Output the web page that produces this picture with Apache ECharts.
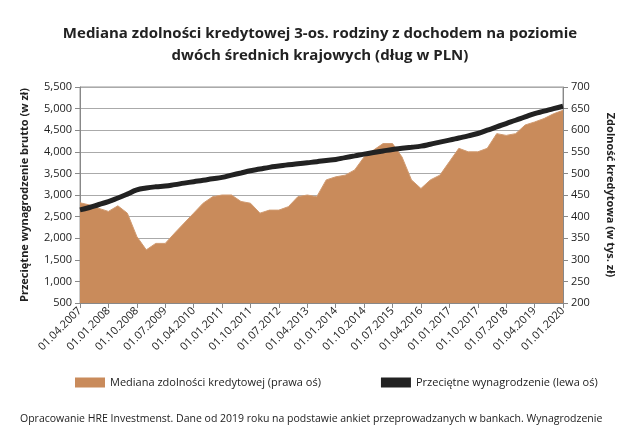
<!DOCTYPE html><html><head><meta charset="utf-8"><script src="https://cdn.jsdelivr.net/npm/echarts@6/dist/echarts.min.js"></script></head><body style="margin:0"><div id="c" style="width:640px;height:443px"></div><script>
const categories=(function(){const a=[];for(let y=2007;y<=2020;y++)for(const m of ['01','04','07','10']){if(y===2007&&m==='01')continue;if(y===2020&&m!=='01')continue;a.push('01.'+m+'.'+y);}return a;})();
const wages=[2655,2710,2780,2847,2930,3020,3116,3160,3190,3208,3240,3275,3308,3340,3375,3408,3460,3510,3562,3600,3640,3670,3700,3725,3747,3770,3800,3824,3865,3905,3947,3985,4020,4054,4080,4105,4131,4175,4225,4270,4320,4370,4424,4500,4575,4654,4730,4810,4885,4940,5000,5054];
const capacity=[432,427,419,412,425,408,354,323,338,338,362,385,408,431,446,450,450,435,431,408,415,415,423,446,450,446,485,492,496,508,538,554,569,569,538,485,465,485,496,527,558,550,550,558,592,588,592,612,619,627,638,646];
const c=echarts.init(document.getElementById('c'));
c.setOption({animation:false,
title:{text:'Mediana zdolności kredytowej 3-os. rodziny z dochodem na poziomie\ndwóch średnich krajowych (dług w PLN)',left:'center',top:18,textStyle:{fontFamily:'Open Sans',fontSize:15,fontWeight:'bold',color:'#222',lineHeight:22}},
legend:{bottom:50,left:70,itemGap:60,textStyle:{fontFamily:'Open Sans',fontSize:11,color:'#222'},data:[{name:'Mediana zdolności kredytowej (prawa oś)',icon:'rect',itemStyle:{color:'#C98B5B'}},{name:'Przeciętne wynagrodzenie (lewa oś)',icon:'rect',itemHeight:5,itemStyle:{color:'#222'}}],itemWidth:30,itemHeight:10},
graphic:[{type:'text',left:20,top:414,style:{text:'Opracowanie HRE Investmenst. Dane od 2019 roku na podstawie ankiet przeprowadzanych w bankach. Wynagrodzenie',fontFamily:'Open Sans',fontSize:10.5,fill:'#222'}}],
grid:{left:80,right:77,top:87,bottom:140,show:true,borderColor:'#999',borderWidth:1},
xAxis:{type:'category',data:categories,boundaryGap:false,axisLine:{lineStyle:{color:'#888'}},axisTick:{alignWithLabel:true,interval:2,lineStyle:{color:'#888'}},axisLabel:{interval:2,rotate:45,fontFamily:'Open Sans',fontSize:11,color:'#222',margin:6}},
yAxis:[{type:'value',min:500,max:5500,interval:500,name:'Przeciętne wynagrodzenie brutto (w zł)',nameLocation:'middle',nameGap:50,nameTextStyle:{fontFamily:'Open Sans',fontWeight:'bold',fontSize:11,color:'#222'},axisLine:{show:true,lineStyle:{color:'#888'}},axisTick:{show:true},axisLabel:{fontFamily:'Open Sans',fontSize:11,color:'#222'},splitLine:{lineStyle:{color:'#aaa'}}},
{type:'value',min:200,max:700,interval:50,name:'Zdolność kredytowa (w tys. zł)',nameLocation:'middle',nameGap:42,nameRotate:-90,nameTextStyle:{fontFamily:'Open Sans',fontWeight:'bold',fontSize:11,color:'#222'},axisLine:{show:true,lineStyle:{color:'#888'}},axisTick:{show:true},axisLabel:{fontFamily:'Open Sans',fontSize:11,color:'#222'},splitLine:{show:false}}],
series:[{name:'Mediana zdolności kredytowej (prawa oś)',type:'line',yAxisIndex:1,data:capacity,symbol:'none',lineStyle:{width:1,color:'#D09A70'},areaStyle:{color:'#C98B5B',opacity:1},itemStyle:{color:'#C98B5B'}},
{name:'Przeciętne wynagrodzenie (lewa oś)',type:'line',yAxisIndex:0,data:wages,symbol:'none',smooth:true,lineStyle:{width:5,color:'#222'},itemStyle:{color:'#222'}}]});
</script></body></html>
